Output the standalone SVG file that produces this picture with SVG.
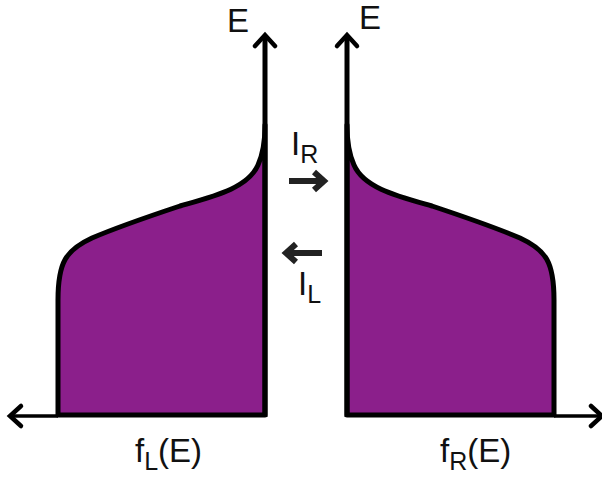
<svg xmlns="http://www.w3.org/2000/svg" width="602" height="478" viewBox="0 0 602 478">
<style>
.fill{fill:#8b1f8b;stroke:#000;stroke-width:5;stroke-linejoin:round}
.ax{fill:none;stroke:#000;stroke-width:5;stroke-linecap:butt}
.hax{fill:none;stroke:#000;stroke-width:3.5}
.head{fill:none;stroke:#000;stroke-width:4.5;stroke-linecap:round;stroke-linejoin:miter}
.cur{fill:none;stroke:#222;stroke-width:6;stroke-linejoin:miter}
text{font-family:"Liberation Sans",Arial,sans-serif;fill:#111}
.big{font-size:33px}
.sub{font-size:25px}
</style>
<defs>
<g id="half">
<path class="fill" d="M58,415 L58,300 C58,262 66,250 92,238 C120,226 150,216 180,206 C215,196 248,188 258,165 C264,152 265,140 265,125 L265,415 Z"/>
<line class="hax" x1="58" y1="416" x2="11" y2="416"/>
<polyline class="head" points="21,406 10,416 21,426"/>
<line class="ax" x1="265" y1="417" x2="265" y2="37"/>
<polyline class="head" points="255,46 265,35 275,46"/>
</g>
</defs>
<g id="left-plot">
<use href="#half"/>
</g>
<g id="right-plot">
<use href="#half" transform="translate(612,0) scale(-1,1)"/>
</g>
<g id="connectors">
<line class="cur" x1="289" y1="181" x2="322" y2="181"/>
<polyline class="cur" points="314,172 324,181 314,190"/>
<line class="cur" x1="322" y1="253" x2="288" y2="253"/>
<polyline class="cur" points="296,244 286,253 296,262"/>
</g>
<g id="labels">
<text class="big" x="227" y="32">E</text>
<text class="big" x="359" y="29">E</text>
<text class="big" x="291" y="155">I<tspan class="sub" dy="8">R</tspan></text>
<text class="big" x="298" y="295">I<tspan class="sub" dy="8">L</tspan></text>
<text class="big" x="135" y="462">f<tspan class="sub" dy="8">L</tspan><tspan dy="-8">(E)</tspan></text>
<text class="big" x="440" y="462">f<tspan class="sub" dy="8">R</tspan><tspan dy="-8">(E)</tspan></text>
</g>
</svg>
